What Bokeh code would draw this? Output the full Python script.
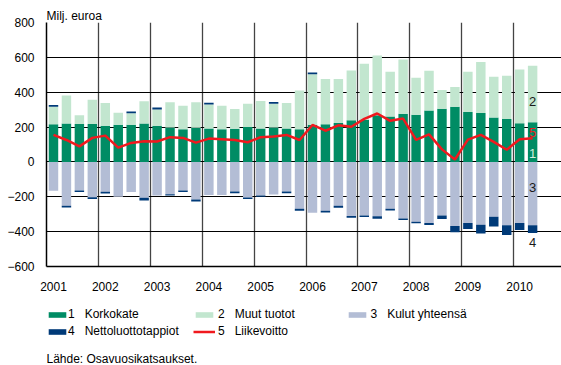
import numpy as np
from bokeh.plotting import figure
from bokeh.layouts import column
from bokeh.models import Range1d, FixedTicker, Legend, LegendItem, Label, ColumnDataSource, Title
from bokeh.embed import file_html
from bokeh.resources import INLINE

# ---- data (milj. euroa, quarterly 2001Q1 .. 2010Q2) ----
years = ["2001", "2002", "2003", "2004", "2005", "2006", "2007", "2008", "2009", "2010"]
korkokate = [216, 221, 217, 217, 208, 214, 214, 221, 208, 198, 188, 196, 192, 188, 190, 200, 192, 198, 192,
             188, 214, 216, 223, 239, 242, 268, 261, 276, 270, 295, 305, 316, 286, 281, 255, 246, 222, 228]
muut_tuotot = [101, 160, 51, 140, 130, 68, 66, 127, 93, 144, 134, 146, 138, 134, 113, 134, 158, 136, 146,
               222, 289, 260, 253, 285, 322, 342, 257, 312, 213, 228, 108, 114, 232, 293, 234, 248, 308, 324]
kulut = [-166, -251, -164, -202, -171, -200, -173, -206, -192, -185, -164, -215, -190, -190, -170, -204, -192,
         -187, -170, -269, -291, -280, -251, -310, -307, -312, -269, -324, -343, -350, -307, -368, -350, -360,
         -314, -364, -350, -364]
luottotappiot = [9, -10, -9, -11, -10, 0, 9, -15, 11, -7, -9, -12, 10, 0, -9, -9, -8, 10, -9, -11, 10, -10,
                 -12, -10, -9, -14, -9, -9, -9, -12, -21, -36, -35, -50, -56, -55, -41, -44]
liikevoitto = [155, 126, 89, 138, 151, 82, 109, 118, 117, 142, 138, 111, 134, 130, 126, 113, 142, 146, 155,
               126, 212, 179, 210, 202, 247, 278, 236, 249, 127, 158, 72, 14, 128, 155, 115, 70, 130, 136]
y_ticks = [-600, -400, -200, 0, 200, 400, 600, 800]
series_names = ["1\u00a0\u00a0 Korkokate", "2\u00a0\u00a0 Muut tuotot", "3\u00a0\u00a0 Kulut yhteensä",
                "4\u00a0\u00a0 Nettoluottotappiot", "5\u00a0\u00a0 Liikevoitto"]

GREEN = "#008c64"
LIGHT = "#c2e6cf"
GREY = "#b3bdd5"
NAVY = "#003a78"
RED = "#f0191e"
FONT = "Liberation Sans"

n = len(korkokate)
x = np.arange(n)
kk = np.array(korkokate, float)
mt = np.array(muut_tuotot, float)
ku = np.array(kulut, float)
nl = np.array(luottotappiot, float)
nl_pos = np.clip(nl, 0, None)
nl_neg = np.clip(nl, None, 0)

src = ColumnDataSource(dict(
    x=x, kk=kk, mt_top=kk + mt, nlp_top=kk + mt + nl_pos,
    ku=ku, nln_top=ku + nl_neg, lv=np.array(liikevoitto, float),
))

# ---------------- main chart ----------------
p = figure(width=561, height=300, x_range=Range1d(-0.54, 39.23), y_range=Range1d(-600, 800),
           output_backend="svg", toolbar_location=None, title=None,
           min_border_left=46, min_border_right=0, min_border_top=22, min_border_bottom=34)
p.outline_line_color = None
p.background_fill_color = "white"
p.border_fill_color = "white"

W = 0.73
r_kk = p.vbar(x="x", bottom=0, top="kk", width=W, fill_color=GREEN, line_color=None, source=src)
r_mt = p.vbar(x="x", bottom="kk", top="mt_top", width=W, fill_color=LIGHT, line_color=None, source=src)
r_nlp = p.vbar(x="x", bottom="mt_top", top="nlp_top", width=W, fill_color=NAVY, line_color=None, source=src)
r_ku = p.vbar(x="x", bottom=0, top="ku", width=W, fill_color=GREY, line_color=None, source=src)
r_nln = p.vbar(x="x", bottom="ku", top="nln_top", width=W, fill_color=NAVY, line_color=None, source=src)
r_lv = p.line(x="x", y="lv", line_color=RED, line_width=2.5, source=src)

p.yaxis.ticker = FixedTicker(ticks=y_ticks)
p.xaxis.ticker = FixedTicker(ticks=[4 * i for i in range(len(years))])
p.xaxis.major_label_overrides = {4 * i: yr for i, yr in enumerate(years)}
for ax in (p.xaxis[0], p.yaxis[0]):
    ax.major_tick_in = 0
    ax.major_tick_out = 0
    ax.minor_tick_line_color = None
    ax.major_tick_line_color = None
    ax.axis_line_color = "black"
    ax.axis_line_width = 1.5
    ax.major_label_text_font = FONT
    ax.major_label_text_font_size = "12px"
    ax.major_label_text_color = "black"
p.yaxis.major_label_standoff = 12
p.xaxis.major_label_standoff = 15

p.ygrid.ticker = FixedTicker(ticks=y_ticks)
p.ygrid.grid_line_color = "black"
p.ygrid.grid_line_width = 1
p.xgrid.ticker = FixedTicker(ticks=[4 * i + 3.5 for i in range(len(years) - 1)])
p.xgrid.grid_line_color = "#444444"
p.xgrid.grid_line_width = 1.3

p.add_layout(Title(text="Milj. euroa", align="left", offset=0, standoff=0,
                   text_font=FONT, text_font_size="12px", text_font_style="normal",
                   text_color="black"), "above")

for txt, yv, col in [("2", 346, "#1a1a1a"), ("5", 170, RED), ("1", 49, "#d6eedf"),
                     ("3", -147, "#1a1a1a"), ("4", -461, "#1a1a1a")]:
    p.add_layout(Label(x=n - 1, y=yv, text=txt, text_font=FONT, text_font_size="13px",
                       text_color=col, text_align="center", text_baseline="middle"))

# ---------------- legend + source strip ----------------
# same series, drawn with a y-range far above the data so only their legend swatches show
q = figure(width=561, height=65, x_range=Range1d(0, 1), y_range=Range1d(100000, 100001),
           output_backend="svg", toolbar_location=None, title=None,
           x_axis_type=None, y_axis_type=None,
           min_border_left=0, min_border_right=0, min_border_top=0, min_border_bottom=0)
q.outline_line_color = None
q.grid.visible = False
q.background_fill_color = "white"
q.border_fill_color = "white"

l_kk = q.vbar(x="x", top="kk", width=W, fill_color=GREEN, line_color=None, source=src)
l_mt = q.vbar(x="x", top="mt_top", width=W, fill_color=LIGHT, line_color=None, source=src)
l_ku = q.vbar(x="x", top="ku", width=W, fill_color=GREY, line_color=None, source=src)
l_nl = q.vbar(x="x", top="nln_top", width=W, fill_color=NAVY, line_color=None, source=src)
l_lv = q.line(x="x", y="lv", line_color=RED, line_width=2.5, source=src)


def make_legend(items, loc, standoff=3):
    lg = Legend(items=[LegendItem(label=lab, renderers=[r]) for lab, r in items],
                location=loc, orientation="vertical")
    lg.glyph_width = 22
    lg.glyph_height = 7
    lg.label_standoff = standoff
    lg.label_height = 14
    lg.spacing = 3
    lg.padding = 0
    lg.margin = 0
    lg.border_line_color = None
    lg.background_fill_alpha = 0
    lg.label_text_font = FONT
    lg.label_text_font_size = "12px"
    lg.label_text_color = "black"
    return lg


q.add_layout(make_legend([(series_names[0], l_kk), (series_names[3], l_nl)], (0, 27), standoff=0))
q.add_layout(make_legend([(series_names[1], l_mt), (series_names[4], l_lv)], (147, 27)))
q.add_layout(make_legend([(series_names[2], l_ku)], (299.5, 44)))

q.add_layout(Label(x=0, y=6.5, x_units="screen", y_units="screen", text="Lähde: Osavuosikatsaukset.",
                   text_font=FONT, text_font_size="12px", text_color="black",
                   text_align="left", text_baseline="middle"))

layout = column(p, q, spacing=0)
open("out.html", "w").write(file_html(layout, INLINE))
